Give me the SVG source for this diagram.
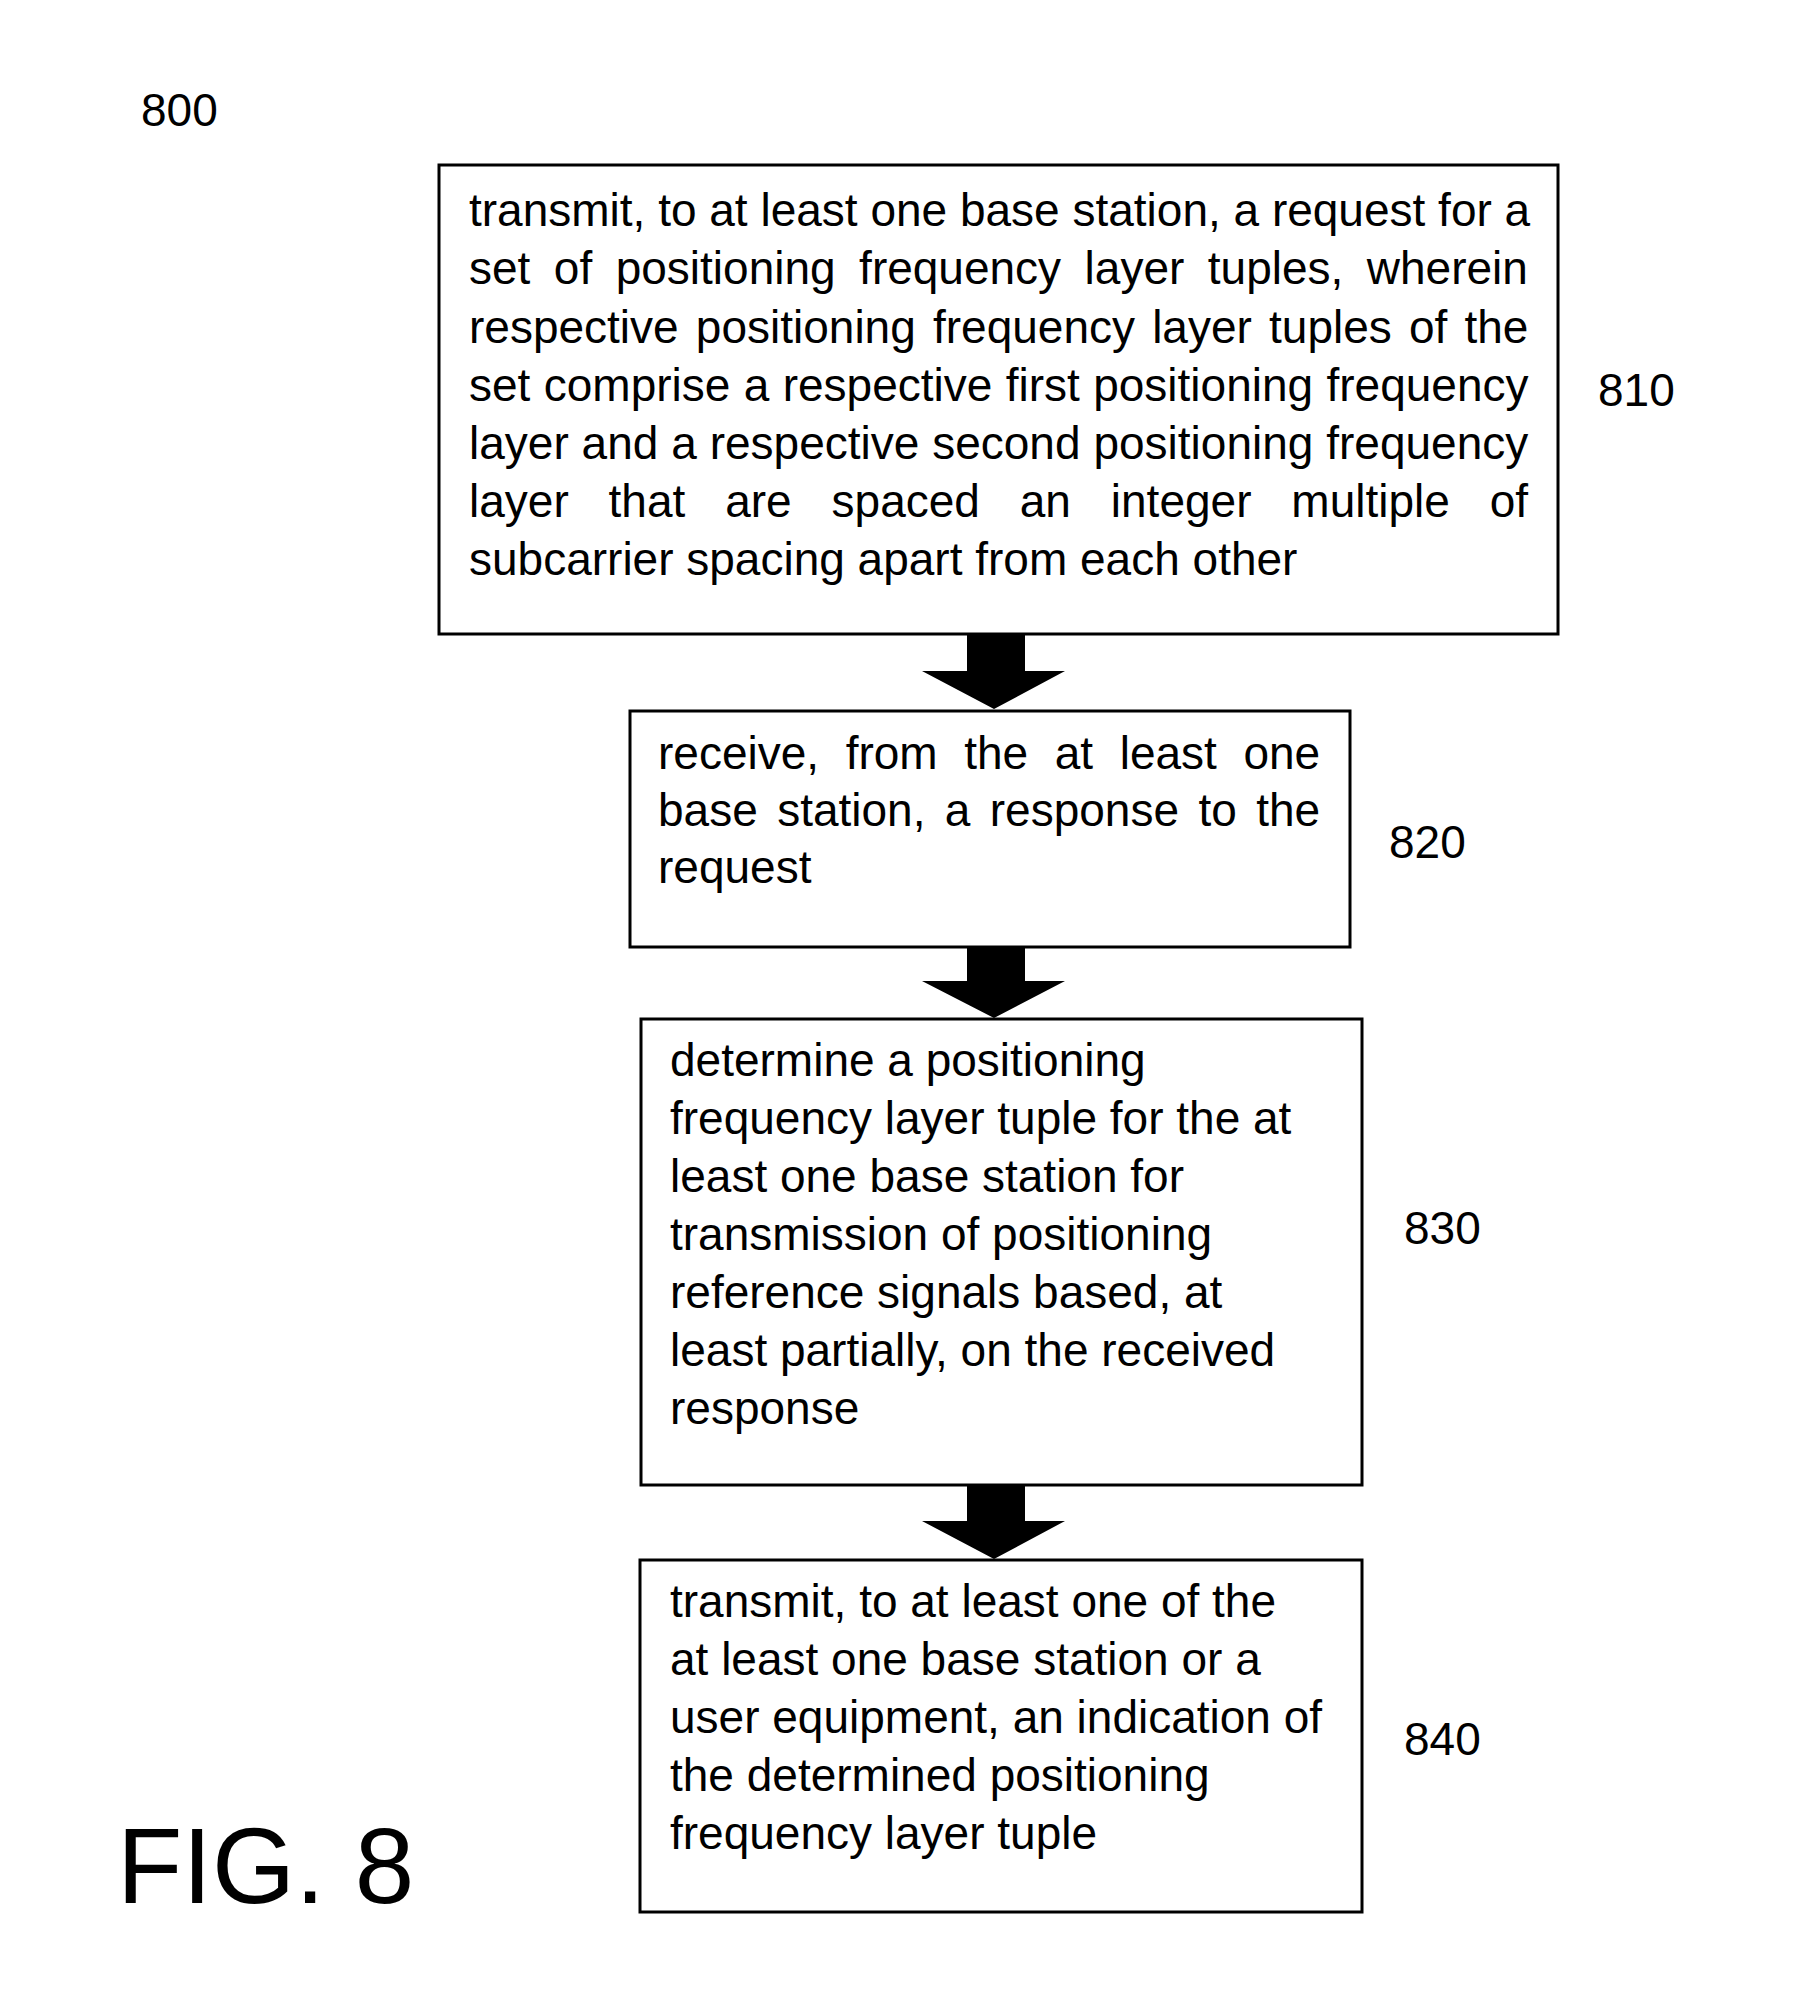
<svg xmlns="http://www.w3.org/2000/svg" width="1802" height="2000" viewBox="0 0 1802 2000">
<style>
.box{fill:#fff;stroke:#000;stroke-width:3}
.t{font-family:"Liberation Sans",Arial,sans-serif;font-size:46px;fill:#000}
.lbl{font-family:"Liberation Sans",Arial,sans-serif;font-size:46px;fill:#000}
.fig{font-family:"Liberation Sans",Arial,sans-serif;font-size:107px;fill:#000}
.arr{fill:#000;stroke:none}
</style>
<rect width="1802" height="2000" fill="#fff"/>
<text class="lbl" x="141" y="126">800</text>
<text class="fig" x="117" y="1903">FIG. 8</text>
<g id="connectors">
<path class="arr" d="M967,634 H1025 V671 H1065 L994,709 L922,671 H967 Z"/>
<path class="arr" d="M967,947 H1025 V981 H1065 L994,1018 L922,981 H967 Z"/>
<path class="arr" d="M967,1485 H1025 V1521 H1065 L994,1559 L922,1521 H967 Z"/>
</g>
<g id="n810">
<rect class="box" x="439" y="165" width="1119" height="469"/>
<text class="t" x="469" y="226">transmit, to at least one base station, a request for a</text>
<text class="t" x="469" y="284" word-spacing="10.7">set of positioning frequency layer tuples, wherein</text>
<text class="t" x="469" y="343" word-spacing="4.4">respective positioning frequency layer tuples of the</text>
<text class="t" x="469" y="401" word-spacing="0.6">set comprise a respective first positioning frequency</text>
<text class="t" x="469" y="459" word-spacing="0.1">layer and a respective second positioning frequency</text>
<text class="t" x="469" y="517" word-spacing="27.1">layer that are spaced an integer multiple of</text>
<text class="t" x="469" y="575">subcarrier spacing apart from each other</text>
<text class="lbl" x="1598" y="406">810</text>
</g>
<g id="n820">
<rect class="box" x="630" y="711" width="720" height="236"/>
<text class="t" x="658" y="769" word-spacing="13.8">receive, from the at least one</text>
<text class="t" x="658" y="826" word-spacing="6.6">base station, a response to the</text>
<text class="t" x="658" y="883">request</text>
<text class="lbl" x="1389" y="858">820</text>
</g>
<g id="n830">
<rect class="box" x="641" y="1019" width="721" height="466"/>
<text class="t" x="670" y="1076">determine a positioning</text>
<text class="t" x="670" y="1134">frequency layer tuple for the at</text>
<text class="t" x="670" y="1192">least one base station for</text>
<text class="t" x="670" y="1250">transmission of positioning</text>
<text class="t" x="670" y="1308">reference signals based, at</text>
<text class="t" x="670" y="1366">least partially, on the received</text>
<text class="t" x="670" y="1424">response</text>
<text class="lbl" x="1404" y="1244">830</text>
</g>
<g id="n840">
<rect class="box" x="640" y="1560" width="722" height="352"/>
<text class="t" x="670" y="1617">transmit, to at least one of the</text>
<text class="t" x="670" y="1675">at least one base station or a</text>
<text class="t" x="670" y="1733">user equipment, an indication of</text>
<text class="t" x="670" y="1791">the determined positioning</text>
<text class="t" x="670" y="1849">frequency layer tuple</text>
<text class="lbl" x="1404" y="1755">840</text>
</g>
</svg>
